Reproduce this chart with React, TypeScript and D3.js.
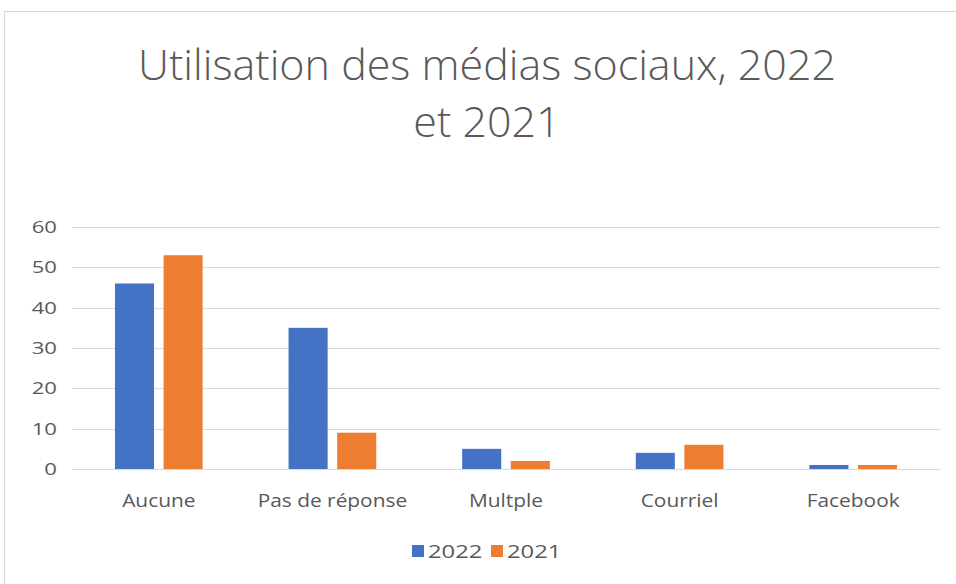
import { useEffect, useRef } from 'react'
import * as d3 from 'd3'

const categories = ['Aucune', 'Pas de réponse', 'Multple', 'Courriel', 'Facebook']
const seriesNames = ['2022', '2021']
const values2022 = [46, 35, 5, 4, 1]
const values2021 = [53, 9, 2, 6, 1]
const yTicks = [0, 10, 20, 30, 40, 50, 60]
const titleLines = ['Utilisation des médias sociaux, 2022', 'et 2021']

const colors = ['#4472C4', '#ED7D31']
const textColor = '#595959'
const gridColor = '#D9D9D9'
const font = "'Open Sans', sans-serif"

export default function App() {
  const svgRef = useRef<SVGSVGElement>(null)
  const width = 956
  const height = 584

  useEffect(() => {
    if (!svgRef.current) return
    const svg = d3.select(svgRef.current)
    svg.selectAll('*').remove()

    // Chart frame (cropped on the right and bottom)
    svg.append('rect')
      .attr('x', 4.5)
      .attr('y', 11.5)
      .attr('width', width + 10)
      .attr('height', height + 10)
      .attr('fill', 'white')
      .attr('stroke', gridColor)

    // Title
    titleLines.forEach((line, i) => {
      svg.append('text')
        .attr('x', 487)
        .attr('y', 80 + i * 57)
        .attr('text-anchor', 'middle')
        .attr('font-family', font)
        .attr('font-size', 43)
        .attr('font-weight', 300)
        .attr('fill', textColor)
        .text(line)
    })

    const margin = { left: 72, right: 16, top: 227, bottom: 115 }
    const x = d3.scaleBand<string>()
      .domain(categories)
      .range([margin.left, width - margin.right])

    const y = d3.scaleLinear()
      .domain([0, 60])
      .range([height - margin.bottom, margin.top])

    // Gridlines
    svg.append('g')
      .selectAll('line')
      .data(yTicks)
      .join('line')
      .attr('x1', margin.left)
      .attr('x2', width - margin.right)
      .attr('y1', d => Math.round(y(d)) + 0.5)
      .attr('y2', d => Math.round(y(d)) + 0.5)
      .attr('stroke', gridColor)
      .attr('stroke-width', 1)

    // Y tick labels (the source text is wide, so stretch it a bit)
    svg.append('g')
      .selectAll('text')
      .data(yTicks)
      .join('text')
      .attr('transform', d => `translate(57,${y(d)}) scale(1.3,1)`)
      .attr('dy', '0.35em')
      .attr('text-anchor', 'end')
      .attr('font-family', font)
      .attr('font-size', 17)
      .attr('fill', textColor)
      .text(d => d)

    // Bars
    const bw = x.bandwidth()
    const barW = bw * 0.225
    const gap = bw * 0.055
    const groupStart = (bw - 2 * barW - gap) / 2
    const series = [values2022, values2021]

    series.forEach((vals, s) => {
      svg.append('g')
        .selectAll('rect')
        .data(vals)
        .join('rect')
        .attr('x', (_, i) => x(categories[i])! + groupStart + s * (barW + gap))
        .attr('y', d => y(d))
        .attr('width', barW)
        .attr('height', d => y(0) - y(d))
        .attr('fill', colors[s])
    })

    // Category labels
    svg.append('g')
      .selectAll('text')
      .data(categories)
      .join('text')
      .attr('transform', d => `translate(${x(d)! + bw / 2},507) scale(1.16,1)`)
      .attr('text-anchor', 'middle')
      .attr('font-family', font)
      .attr('font-size', 18)
      .attr('fill', textColor)
      .text(d => d)

    // Legend
    const legend = svg.append('g').attr('transform', 'translate(412,551)')
    const legendX = [0, 79]
    seriesNames.forEach((name, i) => {
      legend.append('rect')
        .attr('x', legendX[i])
        .attr('y', -6)
        .attr('width', 12)
        .attr('height', 12)
        .attr('fill', colors[i])
      legend.append('text')
        .attr('transform', `translate(${legendX[i] + 16},0) scale(1.25,1)`)
        .attr('dy', '0.35em')
        .attr('font-family', font)
        .attr('font-size', 19)
        .attr('fill', textColor)
        .text(name)
    })
  }, [])

  return (
    <div style={{ position: 'absolute', left: 0, top: 0 }}>
      <svg ref={svgRef} width={width} height={height} style={{ display: 'block', background: 'white' }} />
    </div>
  )
}
